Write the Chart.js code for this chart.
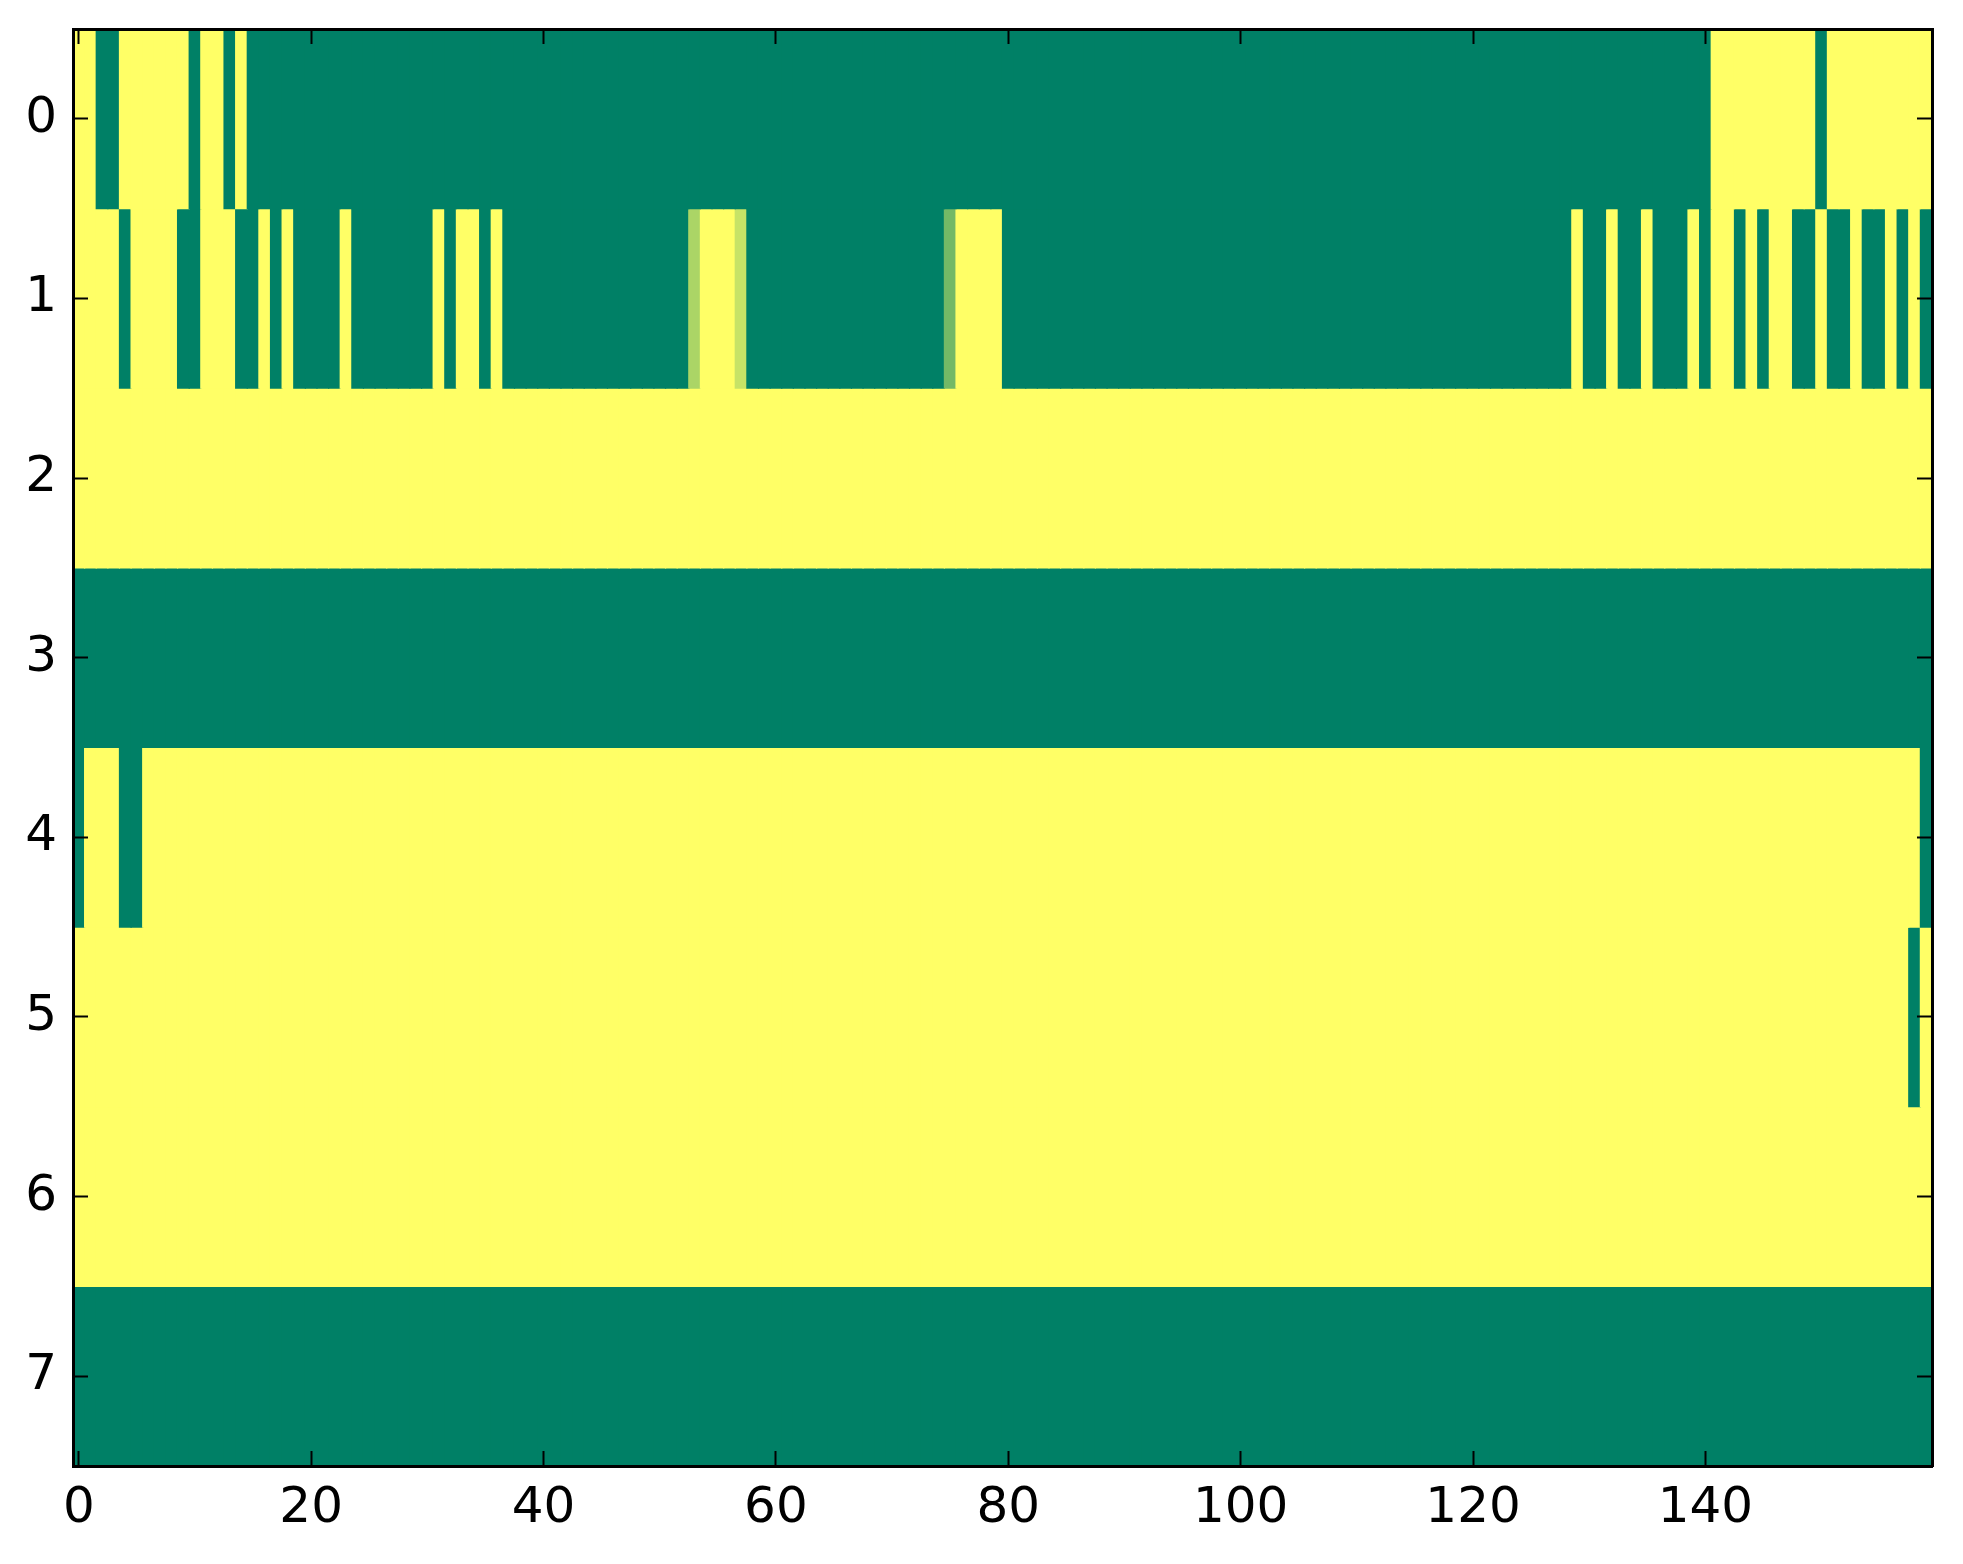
<!DOCTYPE html>
<html>
<head>
<meta charset="utf-8">
<script src="https://cdn.jsdelivr.net/npm/chart.js@4.4.1/dist/chart.umd.min.js"></script>
<style>
  html, body { margin: 0; padding: 0; background: #ffffff; }
  canvas { display: block; }
</style>
</head>
<body>
<canvas id="heatmap" width="1963" height="1564" style="width:1963px;height:1564px"></canvas>
<script>
// Row values: 0 = dark green, 1 = yellow (summer colormap)
const row0 = [
  1,1,0,0,1,1,1,1,1,1,0,1,1,0,1,0,0,0,0,0,
  0,0,0,0,0,0,0,0,0,0,0,0,0,0,0,0,0,0,0,0,
  0,0,0,0,0,0,0,0,0,0,0,0,0,0,0,0,0,0,0,0,
  0,0,0,0,0,0,0,0,0,0,0,0,0,0,0,0,0,0,0,0,
  0,0,0,0,0,0,0,0,0,0,0,0,0,0,0,0,0,0,0,0,
  0,0,0,0,0,0,0,0,0,0,0,0,0,0,0,0,0,0,0,0,
  0,0,0,0,0,0,0,0,0,0,0,0,0,0,0,0,0,0,0,0,
  0,1,1,1,1,1,1,1,1,1,0,1,1,1,1,1,1,1,1,1
];
const row1 = [
  1,1,1,1,0,1,1,1,1,0,0,1,1,1,0,0,1,0,1,0,
  0,0,0,1,0,0,0,0,0,0,0,1,0,1,1,0,1,0,0,0,
  0,0,0,0,0,0,0,0,0,0,0,0,0,0.67,1,1,1,0.78,0,0,
  0,0,0,0,0,0,0,0,0,0,0,0,0,0,0,0.45,1,1,1,1,
  0,0,0,0,0,0,0,0,0,0,0,0,0,0,0,0,0,0,0,0,
  0,0,0,0,0,0,0,0,0,0,0,0,0,0,0,0,0,0,0,0,
  0,0,0,0,0,0,0,0,0,1,0,0,1,0,0,1,0,0,0,1,
  0,1,1,0,1,0,1,1,0,0,1,0,0,1,0,0,1,0,1,0
];
const row2 = [
  1,1,1,1,1,1,1,1,1,1,1,1,1,1,1,1,1,1,1,1,
  1,1,1,1,1,1,1,1,1,1,1,1,1,1,1,1,1,1,1,1,
  1,1,1,1,1,1,1,1,1,1,1,1,1,1,1,1,1,1,1,1,
  1,1,1,1,1,1,1,1,1,1,1,1,1,1,1,1,1,1,1,1,
  1,1,1,1,1,1,1,1,1,1,1,1,1,1,1,1,1,1,1,1,
  1,1,1,1,1,1,1,1,1,1,1,1,1,1,1,1,1,1,1,1,
  1,1,1,1,1,1,1,1,1,1,1,1,1,1,1,1,1,1,1,1,
  1,1,1,1,1,1,1,1,1,1,1,1,1,1,1,1,1,1,1,1
];
const row3 = [
  0,0,0,0,0,0,0,0,0,0,0,0,0,0,0,0,0,0,0,0,
  0,0,0,0,0,0,0,0,0,0,0,0,0,0,0,0,0,0,0,0,
  0,0,0,0,0,0,0,0,0,0,0,0,0,0,0,0,0,0,0,0,
  0,0,0,0,0,0,0,0,0,0,0,0,0,0,0,0,0,0,0,0,
  0,0,0,0,0,0,0,0,0,0,0,0,0,0,0,0,0,0,0,0,
  0,0,0,0,0,0,0,0,0,0,0,0,0,0,0,0,0,0,0,0,
  0,0,0,0,0,0,0,0,0,0,0,0,0,0,0,0,0,0,0,0,
  0,0,0,0,0,0,0,0,0,0,0,0,0,0,0,0,0,0,0,0
];
const row4 = [
  0,1,1,1,0,0,1,1,1,1,1,1,1,1,1,1,1,1,1,1,
  1,1,1,1,1,1,1,1,1,1,1,1,1,1,1,1,1,1,1,1,
  1,1,1,1,1,1,1,1,1,1,1,1,1,1,1,1,1,1,1,1,
  1,1,1,1,1,1,1,1,1,1,1,1,1,1,1,1,1,1,1,1,
  1,1,1,1,1,1,1,1,1,1,1,1,1,1,1,1,1,1,1,1,
  1,1,1,1,1,1,1,1,1,1,1,1,1,1,1,1,1,1,1,1,
  1,1,1,1,1,1,1,1,1,1,1,1,1,1,1,1,1,1,1,1,
  1,1,1,1,1,1,1,1,1,1,1,1,1,1,1,1,1,1,1,0
];
const row5 = [
  1,1,1,1,1,1,1,1,1,1,1,1,1,1,1,1,1,1,1,1,
  1,1,1,1,1,1,1,1,1,1,1,1,1,1,1,1,1,1,1,1,
  1,1,1,1,1,1,1,1,1,1,1,1,1,1,1,1,1,1,1,1,
  1,1,1,1,1,1,1,1,1,1,1,1,1,1,1,1,1,1,1,1,
  1,1,1,1,1,1,1,1,1,1,1,1,1,1,1,1,1,1,1,1,
  1,1,1,1,1,1,1,1,1,1,1,1,1,1,1,1,1,1,1,1,
  1,1,1,1,1,1,1,1,1,1,1,1,1,1,1,1,1,1,1,1,
  1,1,1,1,1,1,1,1,1,1,1,1,1,1,1,1,1,1,0,1
];
const row6 = [
  1,1,1,1,1,1,1,1,1,1,1,1,1,1,1,1,1,1,1,1,
  1,1,1,1,1,1,1,1,1,1,1,1,1,1,1,1,1,1,1,1,
  1,1,1,1,1,1,1,1,1,1,1,1,1,1,1,1,1,1,1,1,
  1,1,1,1,1,1,1,1,1,1,1,1,1,1,1,1,1,1,1,1,
  1,1,1,1,1,1,1,1,1,1,1,1,1,1,1,1,1,1,1,1,
  1,1,1,1,1,1,1,1,1,1,1,1,1,1,1,1,1,1,1,1,
  1,1,1,1,1,1,1,1,1,1,1,1,1,1,1,1,1,1,1,1,
  1,1,1,1,1,1,1,1,1,1,1,1,1,1,1,1,1,1,1,1
];
const row7 = [
  0,0,0,0,0,0,0,0,0,0,0,0,0,0,0,0,0,0,0,0,
  0,0,0,0,0,0,0,0,0,0,0,0,0,0,0,0,0,0,0,0,
  0,0,0,0,0,0,0,0,0,0,0,0,0,0,0,0,0,0,0,0,
  0,0,0,0,0,0,0,0,0,0,0,0,0,0,0,0,0,0,0,0,
  0,0,0,0,0,0,0,0,0,0,0,0,0,0,0,0,0,0,0,0,
  0,0,0,0,0,0,0,0,0,0,0,0,0,0,0,0,0,0,0,0,
  0,0,0,0,0,0,0,0,0,0,0,0,0,0,0,0,0,0,0,0,
  0,0,0,0,0,0,0,0,0,0,0,0,0,0,0,0,0,0,0,0
];
const rows = [row0, row1, row2, row3, row4, row5, row6, row7];

const xTickValues = [0, 20, 40, 60, 80, 100, 120, 140];
const yTickValues = [0, 1, 2, 3, 4, 5, 6, 7];

// matplotlib "summer": r = v, g = 0.5 + v/2, b = 0.4
function summer(v) {
  const r = Math.round(255 * v);
  const g = Math.round(255 * (0.5 + v / 2));
  return `rgb(${r}, ${g}, 102)`;
}

const datasets = rows.map((row, r) => ({
  label: 'row ' + r,
  data: row.map((v, c) => ({ x: c, y: [r - 0.5, r + 0.5] })),
  backgroundColor: row.map(summer),
  borderWidth: 0,
  inflateAmount: 0.6,
  barPercentage: 1,
  categoryPercentage: 1,
  grouped: false
}));

const tickFont = { family: 'DejaVu Sans', size: 50 };

function fixTicks(values) {
  return scale => { scale.ticks = values.map(v => ({ value: v })); };
}

// fixed axis sizes, and no extra label padding from the layout
function fixSize(w, h) {
  return scale => {
    if (w !== null) scale.width = w;
    if (h !== null) scale.height = h;
    scale.paddingTop = 0;
    scale.paddingBottom = 0;
    scale.paddingLeft = 0;
    scale.paddingRight = 0;
  };
}

function axisStyle() {
  return {
    grid: { offset: false, drawOnChartArea: false, drawTicks: true, tickLength: -15, tickWidth: 2, tickColor: '#000', z: 1 },
    border: { display: true, color: '#000', width: 3, z: 1 }
  };
}

const ctx = document.getElementById('heatmap').getContext('2d');
const heatmap = new Chart(ctx, {
  type: 'bar',
  data: { datasets: datasets },
  options: {
    responsive: false,
    animation: false,
    devicePixelRatio: 1,
    layout: { padding: { top: 29, right: 31, left: 0, bottom: 0 } },
    plugins: { legend: { display: false }, tooltip: { enabled: false } },
    scales: {
      x: {
        type: 'linear', position: 'bottom', min: -0.5, max: 159.5, offset: false,
        afterBuildTicks: fixTicks(xTickValues),
        afterFit: fixSize(null, 98),
        ticks: { font: tickFont, color: '#000', padding: 28, maxRotation: 0, autoSkip: false },
        ...axisStyle()
      },
      x2: {
        type: 'linear', position: 'top', min: -0.5, max: 159.5, offset: false,
        afterBuildTicks: fixTicks(xTickValues),
        afterFit: fixSize(null, 0),
        ticks: { display: false },
        ...axisStyle()
      },
      y: {
        type: 'linear', position: 'left', min: -0.5, max: 7.5, reverse: true, offset: false,
        afterBuildTicks: fixTicks(yTickValues),
        afterFit: fixSize(73, null),
        ticks: { font: tickFont, color: '#000', padding: 31, autoSkip: false },
        ...axisStyle()
      },
      y2: {
        type: 'linear', position: 'right', min: -0.5, max: 7.5, reverse: true, offset: false,
        afterBuildTicks: fixTicks(yTickValues),
        afterFit: fixSize(0, null),
        ticks: { display: false },
        ...axisStyle()
      }
    }
  }
});
</script>
</body>
</html>
